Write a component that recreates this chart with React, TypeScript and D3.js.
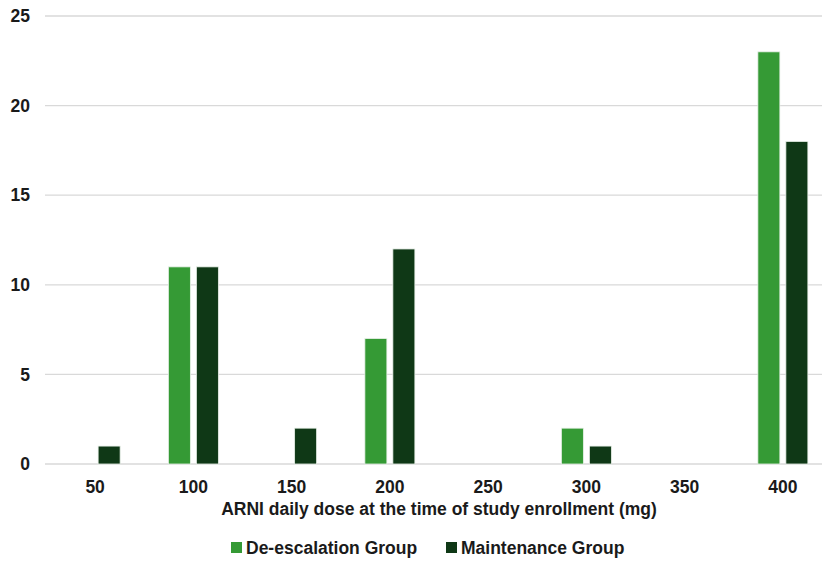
import React from "react";
import * as d3 from "d3";

const categories = ["50", "100", "150", "200", "250", "300", "350", "400"];
const deEscalation = [0, 11, 0, 7, 0, 2, 0, 23];
const maintenance = [1, 11, 2, 12, 0, 1, 0, 18];
const yTicks = [0, 5, 10, 15, 20, 25];
const seriesNames = ["De-escalation Group", "Maintenance Group"];
const colors = ["#359a35", "#0f3816"];

export default function App() {
  const W = 822, H = 562;
  const x = d3.scaleBand<string>().domain(categories).range([46, 832]).padding(0);
  const y = d3.scaleLinear().domain([0, 25]).range([464, 16]);
  const font = "'Liberation Sans', Arial, sans-serif";
  const fs = 17.5;
  const series = [deEscalation, maintenance];
  return (
    <svg width={W} height={H} style={{ position: "absolute", left: 0, top: 0, background: "#fff" }}>
      {yTicks.map((t) => (
        <g key={t}>
          <line x1={45} x2={W} y1={y(t)} y2={y(t)} stroke="#d9d9d9" strokeWidth={1.3} />
          <text x={30} y={y(t)} dy="0.35em" textAnchor="end" fontFamily={font} fontWeight="bold" fontSize={fs} fill="#1a1a1a">
            {t}
          </text>
        </g>
      ))}
      {categories.map((c, i) => {
        const cx = (x(c) as number) + x.bandwidth() / 2;
        return (
          <g key={c}>
            {series.map((s, j) => {
              const v = s[i];
              if (!v) return null;
              const bx = j === 0 ? cx - 25 : cx + 3;
              return (
                <rect key={j} x={bx} y={y(v)} width={22} height={y(0) - y(v)} fill={colors[j]} stroke="#e8f0e8" strokeWidth={0.8} />
              );
            })}
            <text x={cx} y={493} textAnchor="middle" fontFamily={font} fontWeight="bold" fontSize={fs} fill="#1a1a1a">
              {c}
            </text>
          </g>
        );
      })}
      <text x={439} y={515} textAnchor="middle" fontFamily={font} fontWeight="bold" fontSize={fs} fill="#1a1a1a">
        ARNI daily dose at the time of study enrollment (mg)
      </text>
      <g>
        <rect x={231} y={542} width={11} height={11} fill={colors[0]} />
        <text x={246} y={554} fontFamily={font} fontWeight="bold" fontSize={fs} fill="#1a1a1a">{seriesNames[0]}</text>
        <rect x={446} y={542} width={11} height={11} fill={colors[1]} />
        <text x={461} y={554} fontFamily={font} fontWeight="bold" fontSize={fs} fill="#1a1a1a">{seriesNames[1]}</text>
      </g>
    </svg>
  );
}
